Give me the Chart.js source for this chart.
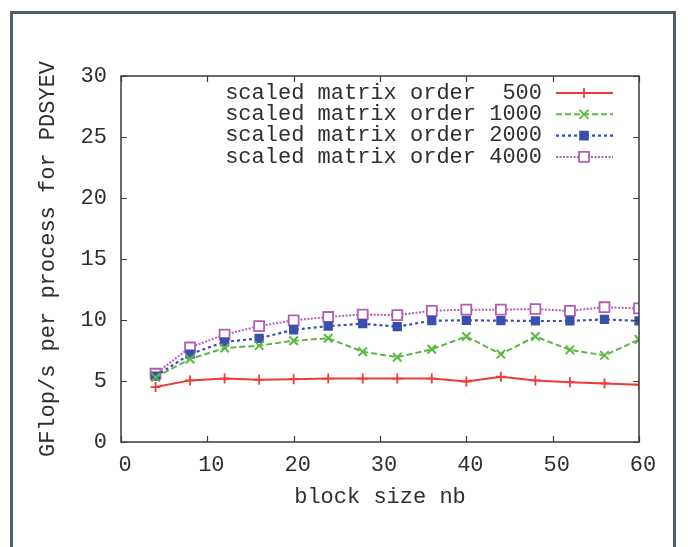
<!DOCTYPE html>
<html>
<head>
<meta charset="utf-8">
<script src="https://cdn.jsdelivr.net/npm/chart.js@4"></script>
<style>
  html, body { margin: 0; padding: 0; background: #fff; }
  #wrap { width: 688px; height: 547px; }
</style>
</head>
<body>
<div id="wrap"><canvas id="chart" width="688" height="547"></canvas></div>
<script>
// block size nb
const blockSizes = [4, 8, 12, 16, 20, 24, 28, 32, 36, 40, 44, 48, 52, 56, 60];

// GFlop/s per process, one array per scaled matrix order
const order500  = [4.5, 5.05, 5.2, 5.1, 5.15, 5.2, 5.2, 5.2, 5.2, 4.95, 5.35, 5.05, 4.9, 4.8, 4.7];
const order1000 = [5.3, 6.8, 7.7, 7.9, 8.3, 8.5, 7.4, 6.95, 7.6, 8.65, 7.2, 8.65, 7.55, 7.1, 8.4];
const order2000 = [5.4, 7.2, 8.2, 8.5, 9.2, 9.5, 9.7, 9.45, 9.95, 9.97, 9.95, 9.92, 9.92, 10.05, 9.92];
const order4000 = [5.6, 7.75, 8.8, 9.5, 9.97, 10.25, 10.45, 10.4, 10.75, 10.85, 10.85, 10.9, 10.75, 11.05, 10.95];

const seriesLabels = [
  "scaled matrix order  500",
  "scaled matrix order 1000",
  "scaled matrix order 2000",
  "scaled matrix order 4000"
];

const xTicks = [0, 10, 20, 30, 40, 50, 60];
const yTicks = [0, 5, 10, 15, 20, 25, 30];

const FONT = "Liberation Mono, Courier New, monospace";
const TEXT = "#2e2e2e";

function pts(ys) {
  return blockSizes.map((x, i) => ({ x: x, y: ys[i] }));
}

// draws a gnuplot-like marker
function marker(ctx, style, x, y, r, color, fill) {
  ctx.save();
  ctx.setLineDash([]);
  ctx.strokeStyle = color;
  ctx.lineWidth = 1.8;
  ctx.beginPath();
  if (style === "cross") {
    ctx.moveTo(x - r, y); ctx.lineTo(x + r, y);
    ctx.moveTo(x, y - r); ctx.lineTo(x, y + r);
    ctx.stroke();
  } else if (style === "crossRot") {
    const d = r * 0.75;
    ctx.moveTo(x - d, y - d); ctx.lineTo(x + d, y + d);
    ctx.moveTo(x - d, y + d); ctx.lineTo(x + d, y - d);
    ctx.stroke();
  } else {
    const s = r * Math.SQRT1_2;
    ctx.fillStyle = fill;
    ctx.rect(x - s, y - s, 2 * s, 2 * s);
    ctx.fill();
    ctx.stroke();
  }
  ctx.restore();
}

const framePlugin = {
  id: "frame",
  beforeDraw(chart) {
    const ctx = chart.ctx;
    ctx.save();
    ctx.fillStyle = "#fff";
    ctx.fillRect(0, 0, chart.width, chart.height);
    ctx.strokeStyle = "#4f5f69";
    ctx.lineWidth = 3;
    ctx.strokeRect(11.5, 12.5, 663, 600);
    ctx.restore();
  },
  afterDraw(chart) {
    const ctx = chart.ctx;
    const a = chart.chartArea;
    const xs = chart.scales.x, ys = chart.scales.y;
    ctx.save();
    ctx.strokeStyle = "#3a3a3a";
    ctx.lineWidth = 1.5;
    ctx.strokeRect(a.left, a.top, a.right - a.left, a.bottom - a.top);
    ctx.lineWidth = 1.2;
    ctx.beginPath();
    const t = 6;
    xTicks.forEach(v => {
      const px = Math.round(xs.getPixelForValue(v)) + 0.5;
      ctx.moveTo(px, a.bottom); ctx.lineTo(px, a.bottom - t);
      ctx.moveTo(px, a.top); ctx.lineTo(px, a.top + t);
    });
    yTicks.forEach(v => {
      const py = Math.round(ys.getPixelForValue(v)) + 0.5;
      ctx.moveTo(a.left, py); ctx.lineTo(a.left + t, py);
      ctx.moveTo(a.right, py); ctx.lineTo(a.right - t, py);
    });
    ctx.stroke();

    // key, top right inside the plot
    ctx.font = "22px " + FONT;
    ctx.fillStyle = TEXT;
    ctx.textAlign = "right";
    ctx.textBaseline = "middle";
    chart.data.datasets.forEach((ds, i) => {
      const y = 93 + i * 21.3;
      ctx.fillText(ds.label, 542, y);
      ctx.save();
      ctx.strokeStyle = ds.borderColor;
      ctx.lineWidth = ds.borderWidth;
      ctx.setLineDash(ds.borderDash || []);
      ctx.beginPath();
      ctx.moveTo(556, y); ctx.lineTo(613, y);
      ctx.stroke();
      ctx.restore();
      marker(ctx, ds.pointStyle, 584, y, ds.pointRadius, ds.borderColor, ds.pointBackgroundColor);
    });
    ctx.restore();
  }
};

document.addEventListener("DOMContentLoaded", () => {

  const canvas = document.getElementById("chart");

  new Chart(canvas, {
    type: "line",
    data: {
      datasets: [
        {
          label: seriesLabels[0],
          data: pts(order500),
          borderColor: "#f03a3a",
          borderWidth: 2,
          pointStyle: "cross",
          pointRadius: 5,
          pointBorderWidth: 1.8,
          pointBackgroundColor: "#f03a3a"
        },
        {
          label: seriesLabels[1],
          data: pts(order1000),
          borderColor: "#5cb845",
          borderWidth: 2,
          borderDash: [6, 3],
          pointStyle: "crossRot",
          pointRadius: 6,
          pointBorderWidth: 2,
          pointBackgroundColor: "#5cb845"
        },
        {
          label: seriesLabels[2],
          data: pts(order2000),
          borderColor: "#3a4fae",
          borderWidth: 2.2,
          borderDash: [3, 3],
          pointStyle: "rect",
          pointRadius: 5.5,
          pointBorderWidth: 1.5,
          pointBackgroundColor: "#3a4fae"
        },
        {
          label: seriesLabels[3],
          data: pts(order4000),
          borderColor: "#b25eb2",
          borderWidth: 2,
          borderDash: [2, 1.5],
          pointStyle: "rect",
          pointRadius: 7,
          pointBorderWidth: 1.8,
          pointBackgroundColor: "#ffffff"
        }
      ]
    },
    options: {
      responsive: false,
      animation: false,
      layout: { padding: { left: 0, top: 76, right: 49, bottom: 0 } },
      plugins: {
        legend: { display: false },
        tooltip: { enabled: false }
      },
      elements: { line: { tension: 0, fill: false } },
      scales: {
        x: {
          type: "linear",
          min: 0,
          max: 60,
          afterBuildTicks: s => { s.ticks = xTicks.map(v => ({ value: v })); },
          afterFit: s => { s.height = 105; },
          grid: { display: false, drawTicks: false },
          border: { display: false },
          ticks: { padding: 10, labelOffset: 4, color: TEXT, font: { family: FONT, size: 22 } },
          title: {
            display: true,
            text: "block size nb",
            color: TEXT,
            font: { family: FONT, size: 22 },
            padding: { top: 0, bottom: 37 }
          }
        },
        y: {
          min: 0,
          max: 30,
          afterBuildTicks: s => { s.ticks = yTicks.map(v => ({ value: v })); },
          afterFit: s => { s.width = 121; },
          grid: { display: false, drawTicks: false },
          border: { display: false },
          ticks: { padding: 14, color: TEXT, font: { family: FONT, size: 22 } },
          title: {
            display: true,
            text: "GFlop/s per process for PDSYEV",
            color: TEXT,
            font: { family: FONT, size: 22 },
            padding: { top: 35, bottom: 0 }
          }
        }
      }
    },
    plugins: [framePlugin]
  });

});
</script>
</body>
</html>
